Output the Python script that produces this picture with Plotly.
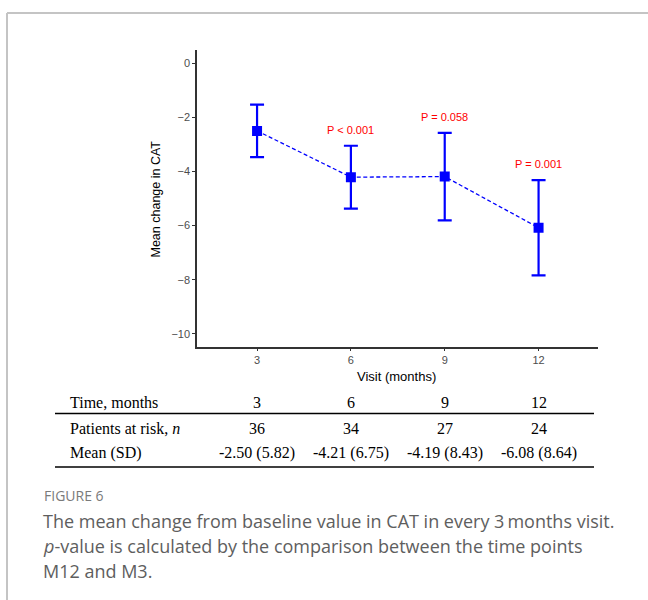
import plotly.graph_objects as go

# ---- data ----
visits = [3, 6, 9, 12]
mean_change = [-2.50, -4.21, -4.19, -6.08]
sd_change = [5.82, 6.75, 8.43, 8.64]
sem_change = [0.97, 1.16, 1.62, 1.76]
n_at_risk = [36, 34, 27, 24]
p_labels = ["P < 0.001", "P = 0.058", "P = 0.001"]
p_x = [6, 9, 12]
p_y = [-2.47, -1.98, -3.73]
y_ticks = [0, -2, -4, -6, -8, -10]
y_ticktext = ["0", "\u22122", "\u22124", "\u22126", "\u22128", "\u221210"]

W, H = 648, 600
def px(x):
    return x / W
def py(y):
    return 1 - y / H

blue = "#0000ff"
fig = go.Figure()
fig.add_trace(go.Scatter(
    x=visits, y=mean_change, mode="lines+markers",
    line=dict(color=blue, width=1.3, dash="4px,2.5px"),
    marker=dict(symbol="square", size=10, color=blue),
    error_y=dict(type="data", array=sem_change, visible=True,
                 color=blue, thickness=2.2, width=7),
    showlegend=False, hoverinfo="skip"))

annotations = []
for t, x, y in zip(p_labels, p_x, p_y):
    annotations.append(dict(x=x, y=y, xref="x", yref="y", text=t, showarrow=False,
                            xanchor="center", yanchor="middle",
                            font=dict(family="Arial, Liberation Sans", size=11, color="#ff0000")))

# axis titles
annotations.append(dict(x=px(155.5), y=py(199), xref="paper", yref="paper",
                        text="Mean change in CAT", textangle=-90, showarrow=False,
                        xanchor="center", yanchor="middle",
                        font=dict(family="Arial, Liberation Sans", size=12.5, color="#000000")))
annotations.append(dict(x=px(397), y=py(376), xref="paper", yref="paper",
                        text="Visit (months)", showarrow=False,
                        xanchor="center", yanchor="middle",
                        font=dict(family="Arial, Liberation Sans", size=13, color="#000000")))

# table
serif = "Times New Roman, Liberation Serif, serif"
tfont = dict(family=serif, size=16, color="#000000")
row_y = [402, 428, 453]
row_labels = ["Time, months", "Patients at risk, <i>n</i>", "Mean (SD)"]
for lbl, ry in zip(row_labels, row_y):
    annotations.append(dict(x=px(68), y=py(ry), xref="paper", yref="paper", text=lbl,
                            showarrow=False, xanchor="left", yanchor="middle", font=tfont))
for v, n, m, s in zip(visits, n_at_risk, mean_change, sd_change):
    annotations.append(dict(x=v, y=py(row_y[0]), xref="x", yref="paper", text=str(v),
                            showarrow=False, xanchor="center", yanchor="middle", font=tfont))
    annotations.append(dict(x=v, y=py(row_y[1]), xref="x", yref="paper", text=str(n),
                            showarrow=False, xanchor="center", yanchor="middle", font=tfont))
    annotations.append(dict(x=v, y=py(row_y[2]), xref="x", yref="paper",
                            text=f"{m:.2f} ({s:.2f})", showarrow=False,
                            xanchor="center", yanchor="middle", font=tfont))

# caption
cap_font = "Open Sans, Noto Sans, sans-serif"
annotations.append(dict(x=px(42), y=py(495), xref="paper", yref="paper", text="FIGURE 6",
                        showarrow=False, xanchor="left", yanchor="middle",
                        font=dict(family=cap_font, size=14, color="#7a7a7a")))
cap_lines = ["The mean change from baseline value in CAT in every 3\u2009months visit.",
             "<i>p</i>-value is calculated by the comparison between the time points",
             "M12 and M3."]
for i, line in enumerate(cap_lines):
    annotations.append(dict(x=px(41), y=py(521 + 25 * i), xref="paper", yref="paper",
                            text=line, showarrow=False, xanchor="left", yanchor="middle",
                            font=dict(family=cap_font, size=18, color="#5e5e5e")))

shapes = [
    dict(type="line", xref="paper", yref="paper", x0=px(55), x1=px(594), y0=py(413.5), y1=py(413.5),
         line=dict(color="#000000", width=1.6)),
    dict(type="line", xref="paper", yref="paper", x0=px(55), x1=px(594), y0=py(467), y1=py(467),
         line=dict(color="#000000", width=1.6)),
    dict(type="line", xref="paper", yref="paper", x0=px(7), x1=px(7), y0=py(13), y1=py(600),
         line=dict(color="#c4c4c4", width=2)),
    dict(type="line", xref="paper", yref="paper", x0=px(7), x1=px(648), y0=py(13), y1=py(13),
         line=dict(color="#c4c4c4", width=2)),
]

axis_common = dict(showgrid=False, zeroline=False, showline=True, linecolor="#333333",
                   linewidth=1.5, ticks="outside", ticklen=3, tickcolor="#333333", tickwidth=1,
                   tickfont=dict(family="Arial, Liberation Sans", size=11, color="#4d4d4d"))

fig.update_layout(
    width=W, height=H, margin=dict(l=0, r=0, t=0, b=0),
    paper_bgcolor="white", plot_bgcolor="white",
    xaxis=dict(domain=[px(197), px(598)], range=[1.08, 13.9], tickvals=visits,
               ticktext=[str(v) for v in visits], **axis_common),
    yaxis=dict(domain=[py(346.5), py(50)], range=[-10.47, 0.49], tickvals=y_ticks,
               ticktext=y_ticktext, **axis_common),
    annotations=annotations, shapes=shapes,
)

fig.write_html("out.html")
